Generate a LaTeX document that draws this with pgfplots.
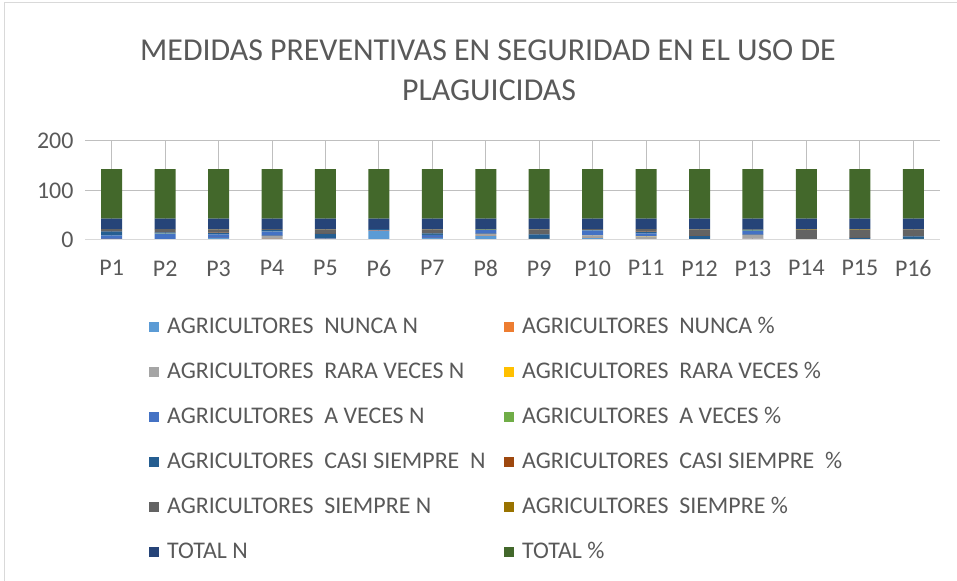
\documentclass[border=0pt]{standalone}
\usepackage{pgfplots}
\pgfplotsset{compat=1.18}
\usepackage{pgfplotstable}
\usepackage{fontspec}
\setmainfont{Carlito}
\definecolor{cN1}{HTML}{5B9BD5}
\definecolor{cP1}{HTML}{ED7D31}
\definecolor{cN2}{HTML}{A5A5A5}
\definecolor{cP2}{HTML}{FFC000}
\definecolor{cN3}{HTML}{4472C4}
\definecolor{cP3}{HTML}{70AD47}
\definecolor{cN4}{HTML}{255E91}
\definecolor{cP4}{HTML}{9E480E}
\definecolor{cN5}{HTML}{636363}
\definecolor{cP5}{HTML}{997300}
\definecolor{cTN}{HTML}{264478}
\definecolor{cTP}{HTML}{43682B}
\definecolor{txt}{HTML}{595959}
\definecolor{grid}{HTML}{D9D9D9}
\pgfplotstableread{
x n1 p1 n2 p2 n3 p3 n4 p4 n5 p5 tn tp
0 2 0.10 0 0 7 0.33 8 0.38 4 0.19 21 100
1 1 0.05 0 0 12 0.57 2 0.10 6 0.29 21 100
2 4 0.19 0 0 7 0.33 3 0.14 7 0.33 21 100
3 2 0.10 6 0.29 9 0.43 2 0.10 2 0.10 21 100
4 2 0.10 0 0 1 0.05 9 0.43 9 0.43 21 100
5 18 0.86 0 0 1 0.05 2 0.10 0 0 21 100
6 4 0.19 0 0 6 0.29 3 0.14 8 0.38 21 100
7 8 0.38 4 0.19 8 0.38 0 0 1 0.05 21 100
8 2 0.10 0 0 0 0 9 0.43 10 0.48 21 100
9 4 0.19 5 0.24 10 0.48 0 0 2 0.10 21 100
10 0 0 7 0.33 6 0.29 3 0.14 5 0.24 21 100
11 1 0.05 0 0 0 0 7 0.33 13 0.62 21 100
12 3 0.14 7 0.33 8 0.38 2 0.10 1 0.05 21 100
13 0 0 0 0 0 0 1 0.05 20 0.95 21 100
14 1 0.05 0 0 0 0 3 0.14 17 0.81 21 100
15 1 0.05 0 0 1 0.05 5 0.24 14 0.67 21 100
}\data
\newcommand{\lb}[1]{\makebox[337bp][l]{#1}}
\begin{document}
\begin{tikzpicture}[x=1bp,y=1bp]
\useasboundingbox (0,0) rectangle (957,581);
\draw[grid, line width=1bp] (4,0) -- (4,578) -- (957,578);
\node[txt, font=\fontsize{32}{38}\selectfont] at (488,531) {MEDIDAS PREVENTIVAS EN SEGURIDAD EN EL USO DE};
\node[txt, font=\fontsize{32}{38}\selectfont] at (489,491) {PLAGUICIDAS};
\begin{axis}[
  at={(85bp,341bp)}, anchor=south west,
  scale only axis, width=855bp, height=99bp,
  ybar stacked, bar width=21bp,
  xmin=-0.5, xmax=15.5, ymin=0, ymax=200,
  xtick=data, xticklabels={P1,P2,P3,P4,P5,P6,P7,P8,P9,P10,P11,P12,P13,P14,P15,P16},
  ytick={0,100,200},
  axis line style={draw=none},
  axis x line*=bottom, 
  major tick length=0pt,
  ymajorgrids, grid style={grid, line width=1bp},
  tick label style={txt, font=\fontsize{24}{28}\selectfont},
  xticklabel style={yshift=-17bp},
  yticklabel style={xshift=-8bp},
  /pgf/number format/assume math mode=true,
  legend image code/.code={\fill[#1] (0bp,-5bp) rectangle (10bp,5bp);},
  legend columns=2,
  legend cell align=left,
  legend style={draw=none, fill=none, at={(axis description cs:0.0713,-0.75)}, anchor=north west,
    font=\fontsize{24}{28}\selectfont, text=txt,
    nodes={inner sep=0pt, text height=17bp, text depth=5bp},
    /tikz/row sep=23bp,
    /tikz/every odd column/.append style={column sep=8bp}},
]
\draw[grid, line width=1bp] (axis cs:-0.5,0) -- (axis cs:15.5,0);
\addplot[fill=cN1, draw=none] table[x=x,y=n1]{\data};
\addplot[fill=cP1, draw=none] table[x=x,y=p1]{\data};
\addplot[fill=cN2, draw=none] table[x=x,y=n2]{\data};
\addplot[fill=cP2, draw=none] table[x=x,y=p2]{\data};
\addplot[fill=cN3, draw=none] table[x=x,y=n3]{\data};
\addplot[fill=cP3, draw=none] table[x=x,y=p3]{\data};
\addplot[fill=cN4, draw=none] table[x=x,y=n4]{\data};
\addplot[fill=cP4, draw=none] table[x=x,y=p4]{\data};
\addplot[fill=cN5, draw=none] table[x=x,y=n5]{\data};
\addplot[fill=cP5, draw=none] table[x=x,y=p5]{\data};
\addplot[fill=cTN, draw=none] table[x=x,y=tn]{\data};
\addplot[fill=cTP, draw=none] table[x=x,y=tp]{\data};
\legend{\lb{AGRICULTORES~ NUNCA N},AGRICULTORES~ NUNCA \%,
\lb{AGRICULTORES~ RARA VECES N},AGRICULTORES~ RARA VECES \%,
\lb{AGRICULTORES~ A VECES N},AGRICULTORES~ A VECES \%,
\lb{AGRICULTORES~ CASI SIEMPRE~ N},AGRICULTORES~ CASI SIEMPRE~ \%,
\lb{AGRICULTORES~ SIEMPRE N},AGRICULTORES~ SIEMPRE \%,
\lb{TOTAL N},TOTAL \%}
\end{axis}
\end{tikzpicture}
\end{document}
